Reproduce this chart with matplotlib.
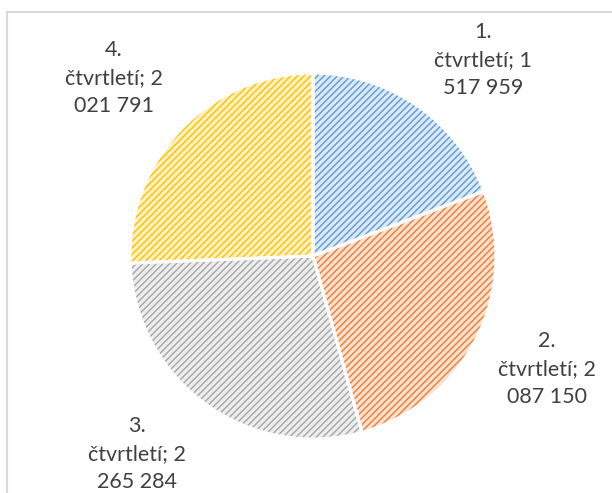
import matplotlib.pyplot as plt
from matplotlib.patches import Rectangle

quarters = ['1.', '2.', '3.', '4.']
values = [1517959, 2087150, 2265284, 2021791]
value_text = ['1\n517 959', '2\n087 150', '2\n265 284', '2\n021 791']

base_colors = ['#5B9BD5', '#ED7D31', '#A5A5A5', '#FFC000']
light_colors = ['#DCE8F5', '#FBE0CF', '#EDEDED', '#FFF0C2']

# label centres (data units, pie radius = 1)
label_pos = [(0.93, 1.07), (1.28, -0.62), (-0.96, -1.08), (-1.09, 0.97)]

plt.rcParams['font.family'] = ['Lato', 'DejaVu Sans']
plt.rcParams['hatch.linewidth'] = 1.0

fig = plt.figure(figsize=(6.12, 4.93), dpi=100)
ax = fig.add_axes([0, 0, 1, 1])

labels = [f'{q}\nčtvrtletí; {v}' for q, v in zip(quarters, value_text)]

# hatched fill: hatch takes the edge colour, so draw without outline first
wedges, texts = ax.pie(values, startangle=90, counterclock=False,
                       colors=light_colors, labels=labels,
                       wedgeprops=dict(linewidth=0, hatch='/////'),
                       textprops=dict(fontsize=15.5, color='#404040',
                                      linespacing=1.5))
for w, c in zip(wedges, base_colors):
    w.set_edgecolor(c)
for t, p in zip(texts, label_pos):
    t.set_position(p)
    t.set_ha('center')
    t.set_va('center')

# white separators on top
ax.pie(values, startangle=90, counterclock=False,
       wedgeprops=dict(fill=False, edgecolor='white', linewidth=2.2))

# put the pie centre at (313, 256) px with radius 183 px
r = 183.0
ax.set_xlim(-313 / r, (612 - 313) / r)
ax.set_ylim(-(493 - 256) / r, 256 / r)
ax.set_aspect('equal')
ax.axis('off')

fig.patches.append(Rectangle((7 / 612, -0.2), 1.2, 1.2 - 12 / 493,
                             transform=fig.transFigure, fill=False,
                             edgecolor='#D9D9D9', linewidth=1.5))

fig.savefig('out.png', dpi=100)
